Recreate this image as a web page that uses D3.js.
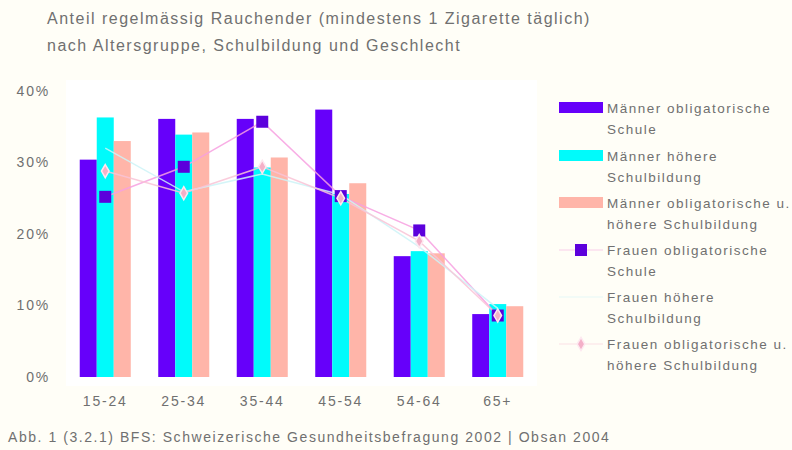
<!DOCTYPE html>
<meta charset="utf-8">
<script src="https://d3js.org/d3.v7.min.js"></script>
<style>
body { margin: 0; background: #fffef7; }
text { font-family: "Liberation Sans", Arial, sans-serif; fill: #707070; }
.title { font-size: 16px; letter-spacing: 1.5px; }
.tick-label { font-size: 14px; letter-spacing: 1.8px; }
.legend text { font-size: 13.5px; letter-spacing: 1.5px; }
.footer { font-size: 14px; letter-spacing: 1.55px; }
</style>
<body>
<script>

// age groups along the x axis
var ageGroups = ["15-24", "25-34", "35-44", "45-54", "54-64", "65+"];

// men, as bars (%)
var maennerObl   = [30.4, 36.1, 36.1, 37.4, 16.9, 8.8];
var maennerHoehe = [36.3, 33.9, 29.3, 25.6, 17.6, 10.2];
var maennerAlle  = [33.0, 34.2, 30.7, 27.1, 17.3, 9.9];

// women, as lines (%)
var frauenObl   = [25.2, 29.4, 35.7, 25.3, 20.5, 8.6];
var frauenHoehe = [32.0, 25.9, 28.4, 25.5, 18.2, 9.6];
var frauenAlle  = [28.8, 25.7, 29.4, 25.0, 19.0, 8.6];

var yTicks = [0, 10, 20, 30, 40];

var barSeries = [
  {name: ["Männer obligatorische", "Schule"], values: maennerObl, color: "#6600fa"},
  {name: ["Männer höhere", "Schulbildung"], values: maennerHoehe, color: "#00fbfb"},
  {name: ["Männer obligatorische u.", "höhere Schulbildung"], values: maennerAlle, color: "#ffb5a9"}
];
var lineSeries = [
  {name: ["Frauen obligatorische", "Schule"], values: frauenObl, color: "#f7a0e0", marker: "square"},
  {name: ["Frauen höhere", "Schulbildung"], values: frauenHoehe, color: "#cdf3f7", marker: "none"},
  {name: ["Frauen obligatorische u.", "höhere Schulbildung"], values: frauenAlle, color: "#f9c3d6", marker: "diamond"}
];

var width = 792, height = 450;

var svg = d3.select("body").append("svg")
    .attr("width", width)
    .attr("height", height);

// plot area
var plot = {left: 66, right: 537, top: 80, bottom: 386};

svg.append("rect")
    .attr("x", plot.left)
    .attr("y", plot.top)
    .attr("width", plot.right - plot.left)
    .attr("height", plot.bottom - plot.top)
    .attr("fill", "#fff");

svg.append("text").attr("class", "title")
    .attr("x", 47).attr("y", 24)
    .text("Anteil regelmässig Rauchender (mindestens 1 Zigarette täglich)");
svg.append("text").attr("class", "title")
    .attr("x", 47).attr("y", 51)
    .text("nach Altersgruppe, Schulbildung und Geschlecht");

var x0 = d3.scaleBand()
    .domain(ageGroups)
    .range([plot.left, plot.right])
    .paddingInner(0.35)
    .paddingOuter(0.175);

var x1 = d3.scaleBand()
    .domain(d3.range(barSeries.length))
    .range([0, x0.bandwidth()]);

var y = d3.scaleLinear()
    .domain([0, 40])
    .range([377, 91]);

// y axis labels
var yAxis = d3.axisLeft(y)
    .tickValues(yTicks)
    .tickFormat(function(d) { return d + "%"; })
    .tickSize(0)
    .tickPadding(0);

var gy = svg.append("g")
    .attr("transform", "translate(50,0)")
    .call(yAxis);
gy.select(".domain").remove();
gy.selectAll("text")
    .attr("class", "tick-label")
    .attr("fill", null)
    .attr("font-family", null)
    .attr("font-size", null);

// x axis labels
var xAxis = d3.axisBottom(x0).tickSize(0).tickPadding(0);
var gx = svg.append("g")
    .attr("transform", "translate(0,396)")
    .call(xAxis);
gx.select(".domain").remove();
gx.selectAll("text")
    .attr("class", "tick-label")
    .attr("fill", null)
    .attr("font-family", null)
    .attr("font-size", null);

// bars
barSeries.forEach(function(s, i) {
  svg.append("g").selectAll("rect")
    .data(s.values)
    .enter().append("rect")
      .attr("x", function(d, j) { return x0(ageGroups[j]) + x1(i); })
      .attr("y", function(d) { return y(d); })
      .attr("width", x1.bandwidth())
      .attr("height", function(d) { return y(0) - y(d); })
      .attr("fill", s.color);
});

// lines
var cx = function(j) { return x0(ageGroups[j]) + x0.bandwidth() / 2; };
var line = d3.line()
    .x(function(d, j) { return cx(j); })
    .y(function(d) { return y(d); });

lineSeries.forEach(function(s) {
  svg.append("path")
    .datum(s.values)
    .attr("d", line)
    .attr("fill", "none")
    .attr("stroke", s.color)
    .attr("stroke-width", 1.5)
    .attr("opacity", 0.85);
});

function drawMarker(g, type, xPos, yPos) {
  if (type == "square") {
    g.append("rect")
      .attr("x", xPos - 6).attr("y", yPos - 6)
      .attr("width", 12).attr("height", 12)
      .attr("fill", "#5c00dc");
  } else if (type == "diamond") {
    g.append("path")
      .attr("d", d3.symbol().type(d3.symbolDiamond).size(50)())
      .attr("transform", "translate(" + xPos + "," + yPos + ")")
      .attr("fill", "#f4b0c8")
      .attr("stroke", "#fde8f0")
      .attr("stroke-width", 1.5);
  }
}

var markers = svg.append("g");
lineSeries.forEach(function(s) {
  s.values.forEach(function(v, j) {
    drawMarker(markers, s.marker, cx(j), y(v));
  });
});

// legend
var legend = svg.append("g").attr("class", "legend");
var legendItems = barSeries.concat(lineSeries);
var legendY = [108, 156, 203, 250, 297, 344];

legendItems.forEach(function(s, i) {
  var g = legend.append("g").attr("transform", "translate(0," + legendY[i] + ")");
  if (i < 3) {
    g.append("rect")
      .attr("x", 559).attr("y", -6)
      .attr("width", 44).attr("height", 11)
      .attr("fill", s.color);
  } else {
    g.append("line")
      .attr("x1", 559).attr("x2", 603)
      .attr("y1", 0).attr("y2", 0)
      .attr("stroke", s.color)
      .attr("stroke-width", 1.2)
      .attr("opacity", 0.5);
    drawMarker(g, s.marker, 581, 0);
  }
  g.append("text")
    .attr("x", 607).attr("y", 5)
    .text(s.name[0]);
  g.append("text")
    .attr("x", 607).attr("y", 26)
    .text(s.name[1]);
});

svg.append("text").attr("class", "footer")
    .attr("x", 8).attr("y", 442)
    .text("Abb. 1 (3.2.1) BFS: Schweizerische Gesundheitsbefragung 2002 | Obsan 2004");

</script>
</body>
